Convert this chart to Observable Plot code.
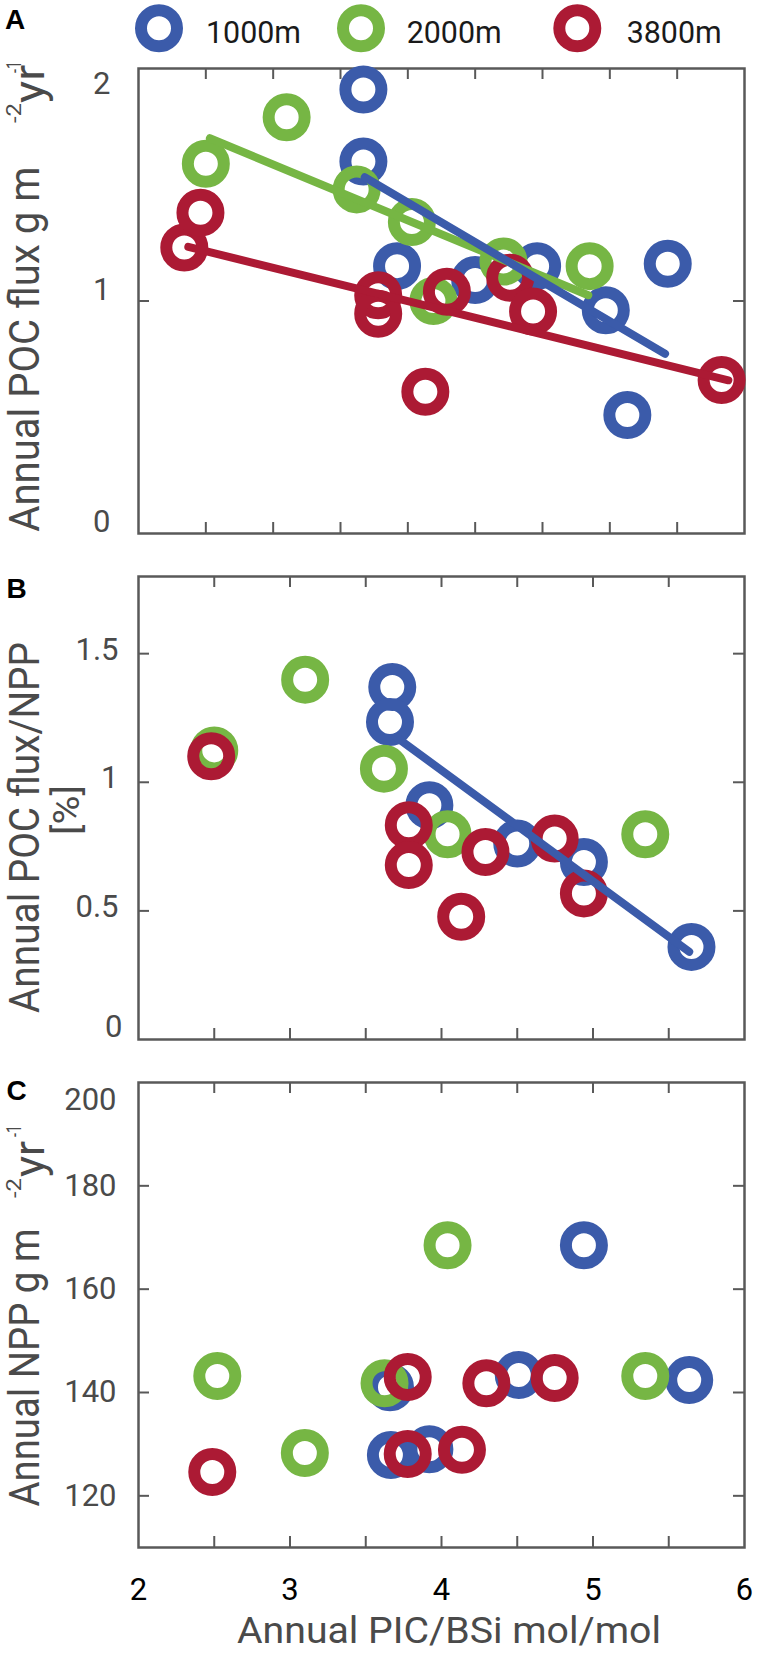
<!DOCTYPE html>
<html><head><meta charset="utf-8">
<script src="https://cdn.jsdelivr.net/npm/d3@7"></script>
<script src="https://cdn.jsdelivr.net/npm/@observablehq/plot@0.6"></script>
<style>
html,body{margin:0;padding:0;background:#fff;}
#page{position:relative;width:761px;height:1656px;overflow:hidden;font-family:Roboto,'Open Sans',sans-serif;}
#page svg.plot{position:absolute;left:0;}
#overlay{position:absolute;left:0;top:0;pointer-events:none;}
</style></head><body><div id="page"></div>
<script>
const series = ["1000m", "2000m", "3800m"];
const colors = ["#3b5baa", "#76b644", "#ac1a34"];

// Panel A: annual POC flux (g m-2 yr-1) vs PIC/BSi
const aX1000 = [3.67, 3.67, 3.92, 4.50, 4.96, 5.47, 5.93, 5.63];
const aY1000 = [1.91, 1.60, 1.15, 1.09, 1.15, 0.96, 1.16, 0.51];
const aX2000 = [3.10, 2.50, 3.62, 4.03, 4.71, 5.35, 4.19];
const aY2000 = [1.79, 1.59, 1.48, 1.34, 1.17, 1.15, 1.00];
const aX3800 = [2.34, 2.46, 3.78, 3.78, 4.13, 4.29, 4.76, 4.93, 6.33];
const aY3800 = [1.23, 1.38, 1.025, 0.945, 0.61, 1.04, 1.10, 0.955, 0.66];
const aFitX1000 = [3.68, 5.91], aFitY1000 = [1.532, 0.773];
const aFitX2000 = [2.53, 5.34], aFitY2000 = [1.70, 1.025];
const aFitX3800 = [2.37, 6.38], aFitY3800 = [1.233, 0.659];

// Panel B: annual POC flux / NPP (%)
const bX1000 = [3.675, 3.66, 3.92, 4.50, 4.94, 5.65];
const bY1000 = [1.37, 1.234, 0.911, 0.762, 0.69, 0.36];
const bX2000 = [2.50, 3.10, 3.62, 4.04, 5.345];
const bY2000 = [1.124, 1.399, 1.053, 0.798, 0.798];
const bX3800 = [2.48, 3.784, 3.784, 4.13, 4.29, 4.747, 4.94];
const bY3800 = [1.101, 0.833, 0.678, 0.477, 0.729, 0.781, 0.568];
const bFitX1000 = [3.70, 5.635], bFitY1000 = [1.176, 0.341];

// Panel C: annual NPP (g m-2 yr-1)
const cX1000 = [4.94, 4.51, 5.635, 3.66, 3.666, 3.92];
const cY1000 = [168.5, 143.4, 142.4, 141.0, 127.9, 129.0];
const cX2000 = [2.52, 3.098, 3.624, 4.04, 5.345];
const cY2000 = [143.2, 128.3, 141.8, 168.5, 143.2];
const cX3800 = [2.487, 3.777, 3.777, 4.135, 4.296, 4.747];
const cY3800 = [124.6, 143.0, 128.1, 128.9, 141.8, 142.8];

// ticks
const xTicksA = [2.5, 3, 3.5, 4, 4.5, 5, 5.5, 6];
const xTicksBC = [2.5, 3, 3.5, 4, 4.5, 5, 5.5];
const xTickLabels = [2, 3, 4, 5, 6];
const yTicksA = [1];
const yTicksB = [0.5, 1, 1.5];
const yTicksC = [120, 140, 160, 180];

const rows = (xs, ys, s) => xs.map((x, i) => ({x, y: ys[i], s}));
const fmt = d => String(d);

const page = document.getElementById("page");
const ML = 138, MR = 17, WIDTH = 761, FW = WIDTH - ML - MR;
const AX = "#595959", TXT = "#4a4a4a";
const FONT = "Roboto, 'Open Sans', sans-serif";

function panel({top, height, mt, mb, xDomain, yDomain, dots, fits, xTicks, yTicks, yLabelSets, xLabels}) {
  const FH = height - mt - mb;
  const marks = [
    Plot.frame({stroke: AX, strokeWidth: 2.5}),
    Plot.tickX(xTicks, {x: d => d, insetTop: FH - 11, stroke: AX, strokeWidth: 2}),
    Plot.tickX(xTicks, {x: d => d, insetBottom: FH - 11, stroke: AX, strokeWidth: 2}),
    Plot.tickY(yTicks, {y: d => d, insetRight: FW - 11, stroke: AX, strokeWidth: 2}),
    Plot.tickY(yTicks, {y: d => d, insetLeft: FW - 11, stroke: AX, strokeWidth: 2}),
    ...yLabelSets.map(s => Plot.axisY({anchor: "left", ticks: s.ticks, tickFormat: fmt, tickSize: 0, tickPadding: s.pad, dy: s.dy, fontSize: 31, color: TXT, label: null})),
  ];
  if (xLabels) marks.push(Plot.axisX({anchor: "bottom", ticks: xLabels, tickFormat: fmt, tickSize: 0, tickPadding: 30, fontSize: 31, color: "#000", label: null}));
  marks.push(Plot.dot(dots, {x: "x", y: "y", stroke: "s", r: 18, strokeWidth: 12, fill: "none"}));
  if (fits.length) marks.push(Plot.line(fits, {x: "x", y: "y", z: "s", stroke: "s", strokeWidth: 8}));
  const svg = Plot.plot({
    width: WIDTH, height, marginLeft: ML, marginRight: MR, marginTop: mt, marginBottom: mb,
    style: {fontFamily: FONT, background: "transparent", overflow: "visible"},
    x: {domain: xDomain, axis: xLabels ? undefined : null},
    y: {domain: yDomain},
    color: {domain: series, range: colors},
    marks
  });
  svg.classList.add("plot");
  svg.style.top = top + "px";
  page.appendChild(svg);
}

panel({
  top: 0, height: 545, mt: 68, mb: 12, xDomain: [2, 6.5], yDomain: [0, 2],
  dots: [...rows(aX1000, aY1000, "1000m"), ...rows(aX2000, aY2000, "2000m"), ...rows(aX3800, aY3800, "3800m")],
  fits: [...rows(aFitX2000, aFitY2000, "2000m"), ...rows(aFitX3800, aFitY3800, "3800m"), ...rows(aFitX1000, aFitY1000, "1000m")],
  xTicks: xTicksA, yTicks: yTicksA,
  yLabelSets: [{ticks: [0, 1], pad: 28, dy: -11}, {ticks: [2], pad: 28, dy: 16}]
});
panel({
  top: 545, height: 510, mt: 31, mb: 16, xDomain: [2, 6], yDomain: [0, 1.8],
  dots: [...rows(bX1000, bY1000, "1000m"), ...rows(bX2000, bY2000, "2000m"), ...rows(bX3800, bY3800, "3800m")],
  fits: rows(bFitX1000, bFitY1000, "1000m"),
  xTicks: xTicksBC, yTicks: yTicksB,
  yLabelSets: [{ticks: [0.5, 1, 1.5], pad: 20, dy: -4}, {ticks: [0], pad: 16, dy: -12}]
});
panel({
  top: 1055, height: 601, mt: 27, mb: 109, xDomain: [2, 6], yDomain: [110, 200],
  dots: [...rows(cX1000, cY1000, "1000m"), ...rows(cX2000, cY2000, "2000m"), ...rows(cX3800, cY3800, "3800m")],
  fits: [],
  xTicks: xTicksBC, yTicks: yTicksC,
  yLabelSets: [{ticks: yTicksC, pad: 22, dy: 0}, {ticks: [200], pad: 22, dy: 18}],
  xLabels: xTickLabels
});

// overlay texts and legend
const ns = "http://www.w3.org/2000/svg";
const ov = document.createElementNS(ns, "svg");
ov.setAttribute("id", "overlay");
ov.setAttribute("width", WIDTH);
ov.setAttribute("height", 1656);
page.appendChild(ov);
function txt(str, attrs) {
  const t = document.createElementNS(ns, "text");
  for (const k in attrs) t.setAttribute(k, attrs[k]);
  t.textContent = str;
  ov.appendChild(t);
  return t;
}
function vtxt(str, x, y, size, len, anchor = "start") {
  const a = {transform: `translate(${x},${y}) rotate(-90)`, "font-size": size, fill: TXT, "font-family": FONT, "text-anchor": anchor};
  if (len) { a.textLength = len; a.lengthAdjust = "spacingAndGlyphs"; }
  return txt(str, a);
}
// panel letters
const letterFont = "'Liberation Sans', Arial, sans-serif";
txt("A", {x: 5, y: 28.5, "font-size": 28, "font-weight": "bold", "font-family": letterFont, fill: "#000"});
txt("B", {x: 6.5, y: 598, "font-size": 28, "font-weight": "bold", "font-family": letterFont, fill: "#000"});
txt("C", {x: 6.5, y: 1100, "font-size": 28, "font-weight": "bold", "font-family": letterFont, fill: "#000"});

// y labels
vtxt("Annual POC flux g m", 39, 531.7, 42, 365);
vtxt("-2", 21, 123, 20, 20);
vtxt("yr", 44, 103, 42, 38);
vtxt("-1", 21, 73, 20, 12);

vtxt("Annual POC flux/NPP", 39, 1013, 42, 371);
vtxt("[%]", 79, 810, 36, 50, "middle");

vtxt("Annual NPP g m", 39, 1506.5, 42, 278);
vtxt("-2", 21, 1198, 20, 20);
vtxt("yr", 44, 1177, 42, 36);
vtxt("-1", 21, 1137, 20, 12);

// x title
txt("Annual PIC/BSi mol/mol", {x: 449, y: 1643.3, "font-size": 37.5, "text-anchor": "middle", textLength: 424, lengthAdjust: "spacingAndGlyphs", fill: TXT, "font-family": FONT});

// legend
const legX = [159, 361, 577.3];
const legTextX = [206, 406.7, 626.7];
series.forEach((s, i) => {
  const c = document.createElementNS(ns, "circle");
  c.setAttribute("cx", legX[i]); c.setAttribute("cy", 28.3); c.setAttribute("r", 18);
  c.setAttribute("fill", "none"); c.setAttribute("stroke", colors[i]); c.setAttribute("stroke-width", 12);
  ov.appendChild(c);
  txt(s, {x: legTextX[i], y: 42.7, "font-size": 31, textLength: 95, lengthAdjust: "spacingAndGlyphs", fill: "#1a1a1a", "font-family": FONT});
});
</script></body></html>
